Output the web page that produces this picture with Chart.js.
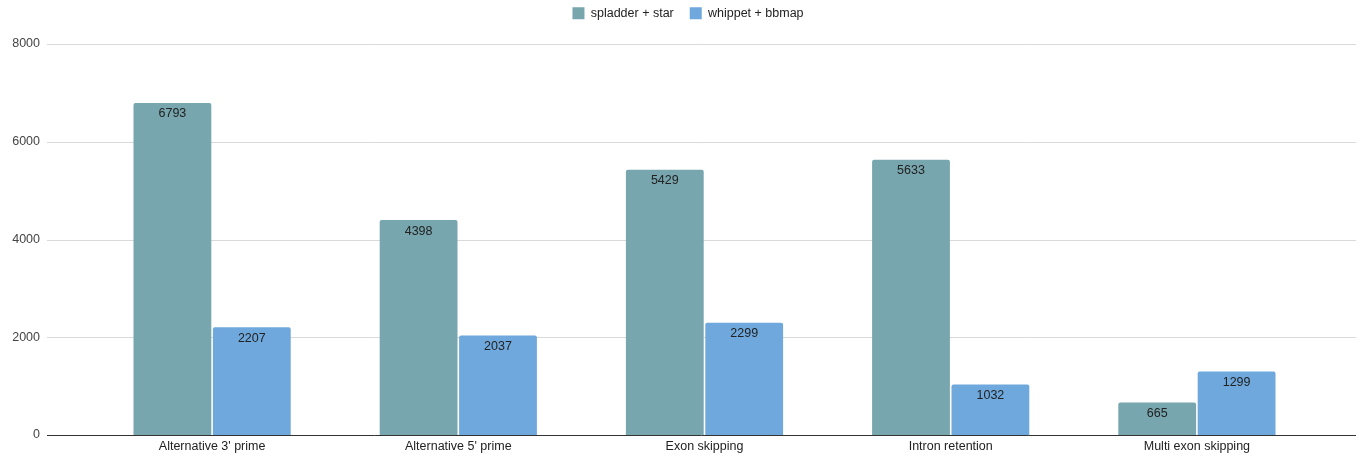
<!DOCTYPE html>
<html>
<head>
<meta charset="utf-8">
<script src="https://cdn.jsdelivr.net/npm/chart.js@4/dist/chart.umd.min.js"></script>
<style>
  html, body { margin: 0; padding: 0; background: #fff; overflow: hidden; }
  canvas { display: block; }
</style>
</head>
<body>
<canvas id="chart" width="1358" height="458"></canvas>
<script>
// values
var categories = ["Alternative 3' prime", "Alternative 5' prime", "Exon skipping", "Intron retention", "Multi exon skipping"];
var spladderStar = [6793, 4398, 5429, 5633, 665];
var whippetBbmap = [2207, 2037, 2299, 1032, 1299];
var yTicks = [0, 2000, 4000, 6000, 8000];

var FONT = "'Liberation Sans', Arial, sans-serif";
var FSIZE = 12.5;

// gridlines in the reference run past the category area on both sides
var gridPlugin = {
    id: 'wideGrid',
    beforeDatasetsDraw: function(chart) {
        var ctx = chart.ctx,
            area = chart.chartArea,
            y = chart.scales.y,
            left = area.left - 42,
            right = area.right + 36;
        ctx.save();
        for (var i = 0; i < yTicks.length; i++) {
            var py = Math.round(y.getPixelForValue(yTicks[i])) + 0.5;
            ctx.strokeStyle = yTicks[i] === 0 ? '#333333' : '#d9d9d9';
            ctx.lineWidth = 1;
            ctx.beginPath();
            ctx.moveTo(left, py);
            ctx.lineTo(right, py);
            ctx.stroke();
        }
        ctx.restore();
    }
};

// legend sits tight to the top edge and a little right of the canvas centre
var legendShift = {
    id: 'legendShift',
    afterLayout: function(chart) {
        var lg = chart.legend;
        var dy = -9 - lg.top, dx = 22;
        lg.top += dy; lg.bottom += dy;
        lg.left += dx; lg.right += dx;
    }
};

// value labels inside the top of each bar
var labelPlugin = {
    id: 'barLabels',
    afterDatasetsDraw: function(chart) {
        var ctx = chart.ctx;
        ctx.save();
        ctx.font = FSIZE + 'px ' + FONT;
        ctx.fillStyle = '#222222';
        ctx.textAlign = 'center';
        ctx.textBaseline = 'middle';
        chart.data.datasets.forEach(function(ds, di) {
            var meta = chart.getDatasetMeta(di);
            meta.data.forEach(function(bar, i) {
                ctx.fillText(String(ds.data[i]), bar.x, bar.y + 11);
            });
        });
        ctx.restore();
    }
};

var chart = new Chart(document.getElementById('chart'), {
    type: 'bar',
    data: {
        labels: categories,
        datasets: [{
            label: 'spladder + star',
            data: spladderStar,
            backgroundColor: '#77a6ae',
            borderRadius: 2,
            borderSkipped: 'bottom'
        }, {
            label: 'whippet + bbmap',
            data: whippetBbmap,
            backgroundColor: '#6fa8dc',
            borderRadius: 2,
            borderSkipped: 'bottom'
        }]
    },
    options: {
        responsive: false,
        animation: false,
        devicePixelRatio: 1,
        layout: { padding: { left: 12, right: 38, top: 0, bottom: 0 } },
        datasets: {
            bar: { categoryPercentage: 0.645, barPercentage: 0.98 }
        },
        plugins: {
            legend: {
                position: 'top',
                align: 'center',
                labels: {
                    boxWidth: 12,
                    boxHeight: 12,
                    padding: 16,
                    color: '#222222',
                    font: { family: FONT, size: FSIZE }
                }
            },
            tooltip: { enabled: false }
        },
        scales: {
            x: {
                grid: { display: false, drawTicks: false },
                border: { display: false },
                ticks: {
                    color: '#222222',
                    padding: 4,
                    maxRotation: 0,
                    font: { family: FONT, size: FSIZE }
                }
            },
            y: {
                min: 0,
                max: 8000,
                grid: { display: false, drawTicks: false },
                border: { display: false },
                afterBuildTicks: function(scale) {
                    scale.ticks = yTicks.map(function(v) { return { value: v }; });
                },
                // the wide tick padding should only push labels left, not pad the axis
                afterFit: function(scale) {
                    scale.width = 77;
                    scale.paddingTop = 44;
                    scale.paddingBottom = 0;
                    scale.paddingLeft = 0;
                    scale.paddingRight = 0;
                },
                ticks: {
                    color: '#444444',
                    padding: 49,
                    font: { family: FONT, size: FSIZE },
                    callback: function(v) { return String(v); }
                }
            }
        }
    },
    plugins: [gridPlugin, legendShift, labelPlugin]
});
</script>
</body>
</html>
